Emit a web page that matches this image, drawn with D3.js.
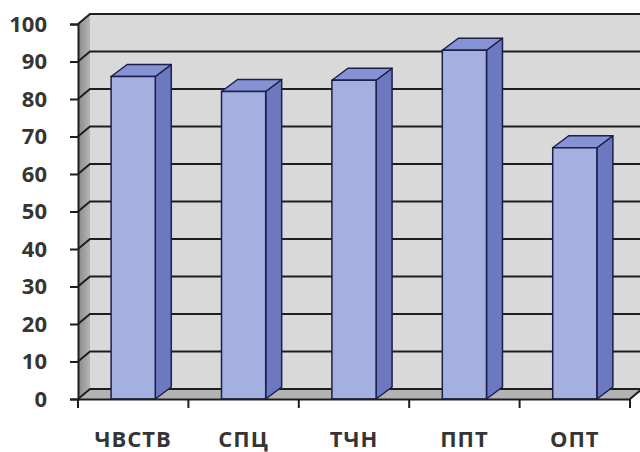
<!DOCTYPE html>
<html><head><meta charset="utf-8">
<script src="https://cdn.jsdelivr.net/npm/d3@7"></script>
<style>html,body{margin:0;padding:0;background:#fff;}svg{display:block;}</style>
</head><body>
<script>
const categories = ["ЧВСТВ", "СПЦ", "ТЧН", "ППТ", "ОПТ"];
const values = [86, 82, 85, 93, 67];
const yTicks = [0, 10, 20, 30, 40, 50, 60, 70, 80, 90, 100];

const W = 640, H = 452;
const svg = d3.select("body").append("svg").attr("width", W).attr("height", H);
const x = d3.scaleBand().domain(categories).range([78, 630]).padding(0);
const y = d3.scaleLinear().domain([0, 100]).range([399, 24]);
const wdx = 12, wdy = -10;   // wall depth
const bdx = 16, bdy = -12;   // bar depth
const x0 = 78, x1 = 630;

const defs = svg.append("defs");
const lg = defs.append("linearGradient").attr("id", "lw").attr("x1", 0).attr("x2", 1).attr("y1", 0).attr("y2", 0);
lg.append("stop").attr("offset", 0).attr("stop-color", "#8a8a8a");
lg.append("stop").attr("offset", 1).attr("stop-color", "#b5b5b5");

// back wall
svg.append("rect").attr("x", x0 + wdx).attr("y", y(100) + wdy)
  .attr("width", x1 - x0).attr("height", y(0) - y(100))
  .attr("fill", "#d9d9d9");
// left wall
svg.append("path").attr("d", `M${x0},${y(0)} L${x0},${y(100)} L${x0+wdx},${y(100)+wdy} L${x0+wdx},${y(0)+wdy} Z`)
  .attr("fill", "url(#lw)");
// floor
svg.append("path").attr("d", `M${x0},${y(0)} L${x0+wdx},${y(0)+wdy} L${x1+wdx},${y(0)+wdy} L${x1},${y(0)} Z`)
  .attr("fill", "#b3b3b3");

// gridlines
const grid = svg.append("g").attr("stroke", "#1e1e1e").attr("stroke-width", 2).attr("fill", "none");
yTicks.forEach(t => {
  grid.append("path").attr("d", `M${x0},${y(t)} L${x0+wdx},${y(t)+wdy} L${x1+wdx+20},${y(t)+wdy}`);
});
grid.append("path").attr("d", `M${x1},${y(0)} L${x1+wdx},${y(0)+wdy}`);

// bars
const bw = x.bandwidth() * 0.4;
const bars = svg.append("g").selectAll("g").data(categories.map((c, i) => ({c, v: values[i]}))).join("g");
bars.each(function(d) {
  const g = d3.select(this);
  const bx = x(d.c) + (x.bandwidth() - bw) / 2;
  const top = y(d.v), bot = y(0);
  const stroke = "#1c1f4a";
  g.append("path").attr("d", `M${bx+bw},${bot} L${bx+bw},${top} L${bx+bw+bdx},${top+bdy} L${bx+bw+bdx},${bot+bdy} Z`)
    .attr("fill", "#6c78c0").attr("stroke", stroke).attr("stroke-width", 1.5).attr("stroke-linejoin", "round");
  g.append("path").attr("d", `M${bx},${top} L${bx+bdx},${top+bdy} L${bx+bw+bdx},${top+bdy} L${bx+bw},${top} Z`)
    .attr("fill", "#8592d4").attr("stroke", stroke).attr("stroke-width", 1.5).attr("stroke-linejoin", "round");
  g.append("rect").attr("x", bx).attr("y", top).attr("width", bw).attr("height", bot - top)
    .attr("fill", "#a3b0e0").attr("stroke", stroke).attr("stroke-width", 1.5);
});

// axes
const yAxis = d3.axisLeft(y).tickValues(yTicks).tickSize(8).tickPadding(23);
const ya = svg.append("g").attr("transform", `translate(${x0},0)`).call(yAxis);
ya.select(".domain").attr("stroke", "#1e1e1e").attr("stroke-width", 2);
ya.selectAll(".tick line").attr("stroke", "#1e1e1e").attr("stroke-width", 2);
ya.selectAll(".tick text").attr("font-family", "'Open Sans', sans-serif").attr("font-weight", "bold")
  .attr("font-size", 22).attr("fill", "#353535");

const xAxis = d3.axisBottom(x).tickSize(0).tickPadding(32);
const xa = svg.append("g").attr("transform", `translate(0,${y(0)})`).call(xAxis);
xa.select(".domain").attr("stroke", "#1e1e1e").attr("stroke-width", 2);
xa.selectAll(".tick text").attr("font-family", "'Open Sans', sans-serif").attr("font-weight", "bold")
  .attr("font-size", 22).attr("letter-spacing", 1).attr("fill", "#353535");
const bounds = categories.map(c => x(c)).concat([x1]);
xa.selectAll(".btick").data(bounds).join("line").attr("class", "btick")
  .attr("x1", d => d).attr("x2", d => d).attr("y1", 0).attr("y2", 9)
  .attr("stroke", "#1e1e1e").attr("stroke-width", 2);
</script>
</body></html>
